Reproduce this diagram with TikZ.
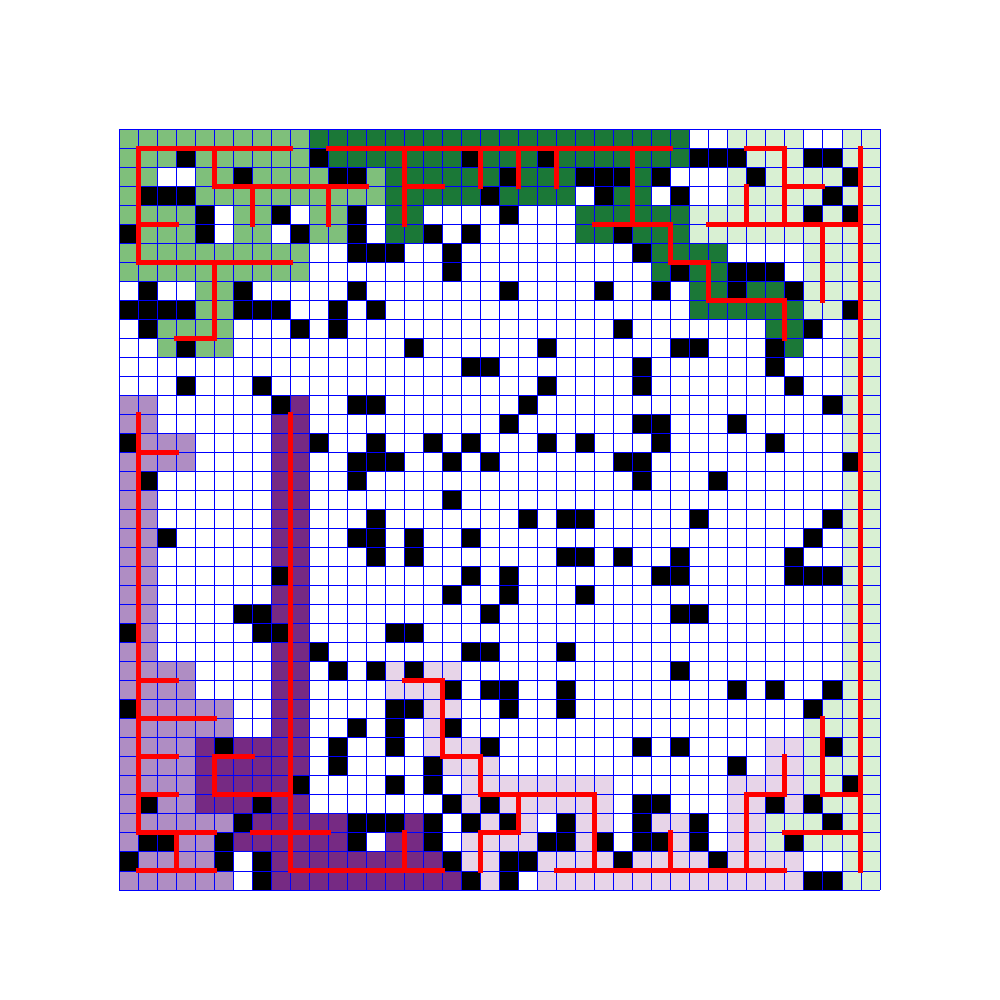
\documentclass[tikz,border=0pt]{standalone}
\usepackage{tikz}

% colours of the regions
\definecolor{regG}{HTML}{7FBF7B}
\definecolor{regD}{HTML}{1B7837}
\definecolor{regL}{HTML}{D9F0D3}
\definecolor{regP}{HTML}{AF8DC3}
\definecolor{regQ}{HTML}{762A83}
\definecolor{regV}{HTML}{E7D4E8}

% one row of cells, one letter per cell
\newcount\cellcol
\def\paintrow#1#2{\global\cellcol=0 \def\currow{#1}\paintcells#2\relax}
\def\paintcells#1{\ifx#1\relax\else
  \fill[cell#1] (\the\cellcol,-\currow) rectangle ++(1,-1);%
  \global\advance\cellcol by 1 \expandafter\paintcells\fi}

\begin{document}
\begin{tikzpicture}[x=0.4cm,y=0.4cm]
		% styles
		\tikzset{
			cellW/.style={fill=white},
			cellK/.style={fill=black},
			cellG/.style={fill=regG},
			cellD/.style={fill=regD},
			cellL/.style={fill=regL},
			cellP/.style={fill=regP},
			cellQ/.style={fill=regQ},
			cellV/.style={fill=regV},
			gridline/.style={draw=blue, line width=0.5pt},
			route/.style={draw=red, line width=3pt, line cap=rect, line join=miter}
		}
		\useasboundingbox (-6.255,6.78) rectangle (46.31,-45.78);

		% cells
		\paintrow{0}{GGGGGGGGGG DDDDDDDDDD DDDDDDDDDD WWLLLLWWLL}
		\paintrow{1}{GGGKGGGGGG KDDDDDDDKD DDKDDDDDDD KKKLLLKKLL}
		\paintrow{2}{GGWWGGKGGG GKKGDDDDDD KDDDKKKDKW WWLKLLLLKL}
		\paintrow{3}{GKKKGGGGGG GGGGDDDDDK DDDDWKDDWK WWLLLLLKLL}
		\paintrow{4}{GGGGKWGGKW GGKWDDWWWW KWWWDDDDDD LLLLLLKLKL}
		\paintrow{5}{KGGGKWGGWK GGKWDDKWKW WWWWDDKDDD LLLLLLLLLL}
		\paintrow{6}{GGGGGGGGGG WWKKKWWKWW WWWWWWWKDD DDWWWWLLLL}
		\paintrow{7}{GGGGGGGGGG WWWWWWWKWW WWWWWWWWDK DDKKKWLLLL}
		\paintrow{8}{WKWWGGKWWW WWKWWWWWWW KWWWWKWWKW DDKDDKLLLL}
		\paintrow{9}{KKKKGGKKKW WKWKWWWWWW WWWWWWWWWW DDDDDDLLKL}
		\paintrow{10}{WKGGGGWWWK WKWWWWWWWW WWWWWWKWWW WWWWDDKWLL}
		\paintrow{11}{WWGKGGWWWW WWWWWKWWWW WWKWWWWWWK KWWWKDWWLL}
		\paintrow{12}{WWWWWWWWWW WWWWWWWWKK WWWWWWWKWW WWWWKWWWLL}
		\paintrow{13}{WWWKWWWKWW WWWWWWWWWW WWKWWWWKWW WWWWWKWWLL}
		\paintrow{14}{PPWWWWWWKQ WWKKWWWWWW WKWWWWWWWW WWWWWWWKLL}
		\paintrow{15}{PPWWWWWWQQ WWWWWWWWWW KWWWWWWKKW WWKWWWWWLL}
		\paintrow{16}{KPPPWWWWQQ KWWKWWKWKW WWKWKWWWKW WWWWKWWWLL}
		\paintrow{17}{PPPPWWWWQQ WWKKKWWKWK WWWWWWKKWW WWWWWWWWKL}
		\paintrow{18}{PKWWWWWWQQ WWKWWWWWWW WWWWWWWKWW WKWWWWWWLL}
		\paintrow{19}{PPWWWWWWQQ WWWWWWWKWW WWWWWWWWWW WWWWWWWWLL}
		\paintrow{20}{PPWWWWWWQQ WWWKWWWWWW WKWKKWWWWW KWWWWWWKLL}
		\paintrow{21}{PPKWWWWWQQ WWKKWKWWKW WWWWWWWWWW WWWWWWKWLL}
		\paintrow{22}{PPWWWWWWQQ WWWKWKWWWW WWWKKWKWWK WWWWWKWWLL}
		\paintrow{23}{PPWWWWWWKQ WWWWWWWWKW KWWWWWWWKK WWWWWKKKLL}
		\paintrow{24}{PPWWWWWWQQ WWWWWWWKWW KWWWKWWWWW WWWWWWWWLL}
		\paintrow{25}{PPWWWWKKQQ WWWWWWWWWK WWWWWWWWWK KWWWWWWWLL}
		\paintrow{26}{KPWWWWWKKQ WWWWKKWWWW WWWWWWWWWW WWWWWWWWLL}
		\paintrow{27}{PPWWWWWWQQ KWWWWWWWKK WWWKWWWWWW WWWWWWWWLL}
		\paintrow{28}{PPPPWWWWQQ WKWKVKVVWW WWWWWWWWWK WWWWWWWWLL}
		\paintrow{29}{PPPPWWWWQQ WWWWVVVKWK KWWKWWWWWW WWKWKWWKLL}
		\paintrow{30}{KPPPPPWWQQ WWWWKKVVWW KWWKWWWWWW WWWWWWKLLL}
		\paintrow{31}{PPPPPPWWQQ WWKWKWVKWW WWWWWWWWWW WWWWWWLLLL}
		\paintrow{32}{PPPPQKQQQQ WKWWKWVVVK WWWWWWWKWK WWWWVVLKLL}
		\paintrow{33}{PPPPQQQQQQ WKWWWWKVVV WWWWWWWWWW WWKWVVLLLL}
		\paintrow{34}{PPPPQQQQQK WWWWKWKWVV VVVVVVWWWW WWVVVVLLKL}
		\paintrow{35}{PKPPQQQKQQ WWWWWWWKVK VVVVVVWKKW WWVVKVKLLL}
		\paintrow{36}{PPPPPPKQQQ QQKKKQKWKV KVWKVVWKVV KWVVLLLKLL}
		\paintrow{37}{PKKPPKQQQQ QQKWQQKWVV VVKKVKWKKV KWVVLKLLLL}
		\paintrow{38}{KPPPPKWKQQ QQQQQQQKVV KKVVVVKVVV VKVVVVWWLL}
		\paintrow{39}{PPPPPPWKQQ QQQQQQQQKV KWVVVVVVVV VVVVVVKKLL}

		% grid
		\draw[gridline] (0,0) grid[step=1] (40,-40);

		% light green tree
		\draw[route] (9,-1) -- (1,-1) -- (1,-7) -- (9,-7);
		\draw[route] (5,-1) -- (5,-3) -- (13,-3);
		\draw[route] (7,-3) -- (7,-5);
		\draw[route] (11,-3) -- (11,-5);
		\draw[route] (1,-5) -- (3,-5);
		\draw[route] (5,-7) -- (5,-11) -- (3,-11);

		% dark green tree
		\draw[route] (11,-1) -- (29,-1);
		\draw[route] (15,-1) -- (15,-5);
		\draw[route] (15,-3) -- (17,-3);
		\draw[route] (19,-1) -- (19,-3);
		\draw[route] (21,-1) -- (21,-3);
		\draw[route] (23,-1) -- (23,-3);
		\draw[route] (27,-1) -- (27,-5);
		\draw[route] (25,-5) -- (29,-5) -- (29,-7) -- (31,-7) -- (31,-9) -- (35,-9) -- (35,-11);

		% pale green tree
		\draw[route] (39,-1) -- (39,-39);
		\draw[route] (31,-5) -- (39,-5);
		\draw[route] (33,-1) -- (35,-1) -- (35,-5);
		\draw[route] (35,-3) -- (37,-3);
		\draw[route] (33,-3) -- (33,-5);
		\draw[route] (37,-5) -- (37,-9);
		\draw[route] (37,-31) -- (37,-35) -- (39,-35);
		\draw[route] (35,-37) -- (39,-37);

		% light purple tree
		\draw[route] (1,-15) -- (1,-37) -- (5,-37);
		\draw[route] (1,-17) -- (3,-17);
		\draw[route] (1,-29) -- (3,-29);
		\draw[route] (1,-31) -- (5,-31);
		\draw[route] (1,-33) -- (3,-33);
		\draw[route] (1,-35) -- (3,-35);
		\draw[route] (3,-37) -- (3,-39);
		\draw[route] (1,-39) -- (5,-39);

		% dark purple tree
		\draw[route] (9,-15) -- (9,-39) -- (17,-39);
		\draw[route] (15,-37) -- (15,-39);
		\draw[route] (7,-37) -- (11,-37);
		\draw[route] (7,-33) -- (5,-33) -- (5,-35) -- (9,-35);

		% pale purple tree
		\draw[route] (15,-29) -- (17,-29) -- (17,-33) -- (19,-33) -- (19,-35) -- (25,-35) -- (25,-39);
		\draw[route] (21,-35) -- (21,-37) -- (19,-37) -- (19,-39);
		\draw[route] (23,-39) -- (35,-39);
		\draw[route] (29,-37) -- (29,-39);
		\draw[route] (33,-39) -- (33,-35) -- (35,-35) -- (35,-33);
\end{tikzpicture}
\end{document}
